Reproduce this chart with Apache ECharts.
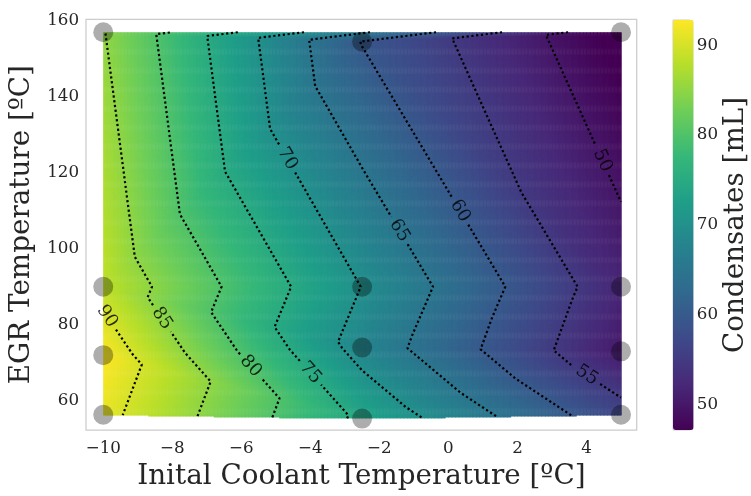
<!DOCTYPE html>
<html><head><meta charset="utf-8">
<script src="https://cdn.jsdelivr.net/npm/echarts@6/dist/echarts.min.js"></script>
<style>html,body{margin:0;padding:0;background:#fff}#c{width:751px;height:496px}</style>
</head><body><div id="c"></div>
<script>
const coolantTemp = [-10, -10, -10, -10, -2.5, -2.5, -2.5, -2.5, 5, 5, 5, 5];
const egrTemp     = [157, 90, 72, 56.3, 154.5, 90, 74, 55.3, 157, 90, 73, 56.3];
const condensates = [85.2, 88.5, 92.8, 91.3, 59.8, 69.9, 68.1, 74, 46, 52, 50.4, 56.7];
const contourLevels = [50, 55, 60, 65, 70, 75, 80, 85, 90];
const xTickValues = [-10, -8, -6, -4, -2, 0, 2, 4];
const yTickValues = [60, 80, 100, 120, 140, 160];
const colorbarTicks = [50, 60, 70, 80, 90];
const colorRange = [47.2, 92.8];
// Delaunay triangulation of the measured points (indices)
const triangles = [[0,1,4],[1,5,4],[1,2,6],[1,6,5],[2,3,7],[2,7,6],[0,4,8],
                   [4,5,9],[4,9,8],[5,6,9],[6,10,9],[6,7,10],[7,11,10]];

// ---- layout / style ----
const FONT = 'DejaVu Serif', TXT = '#262626';
const TICK_FS = 16.7, TITLE_FS = 27.8, CLABEL_FS = 18;
const CELL_DX = 0.1, CELL_DY = 0.25;
const LABEL_ANCHOR = {90:[-9.78,82.9],85:[-8.23,82.1],80:[-5.67,69.6],75:[-3.93,67.9],
  70:[-4.6,124.1],65:[-1.42,104.8],60:[0.42,110.4],55:[4.0,66.6],50:[4.48,123.3]};
const GAP_R = 16;
const viridis = ['#440154','#482878','#3e4a89','#31688e','#26828e','#1f9e89','#35b779','#6ece58','#b5de2b','#fde725'];
const fmt = v => (v < 0 ? '\u2212' + Math.abs(v) : String(v));

function fieldAt(x, y) {
  for (const [a, b, c] of triangles) {
    const x1 = coolantTemp[a], y1 = egrTemp[a], x2 = coolantTemp[b], y2 = egrTemp[b], x3 = coolantTemp[c], y3 = egrTemp[c];
    const det = (y2 - y3) * (x1 - x3) + (x3 - x2) * (y1 - y3);
    const l1 = ((y2 - y3) * (x - x3) + (x3 - x2) * (y - y3)) / det;
    const l2 = ((y3 - y1) * (x - x3) + (x1 - x3) * (y - y3)) / det;
    const l3 = 1 - l1 - l2;
    if (l1 >= -1e-9 && l2 >= -1e-9 && l3 >= -1e-9) return l1 * condensates[a] + l2 * condensates[b] + l3 * condensates[c];
  }
  return null;
}

// heat cells from the triangulated field
const cells = [];
const xMin = Math.min(...coolantTemp), xMax = Math.max(...coolantTemp);
const yMaxD = Math.max(...egrTemp), yMinD = Math.min(...egrTemp);
const nCols = Math.round((xMax - xMin) / CELL_DX);
const nRows = Math.floor((yMaxD - yMinD) / CELL_DY + 1e-9);
for (let i = 0; i < nCols; i++) {
  const x0 = xMin + i * CELL_DX;
  for (let j = 0; j < nRows; j++) {
    const y0 = yMaxD - (j + 1) * CELL_DY;
    const v = fieldAt(x0 + CELL_DX / 2, y0 + CELL_DY / 2);
    if (v !== null) cells.push([x0, y0, v]);
  }
}

function contourLines(L) {
  const segs = [];
  for (const tri of triangles) {
    const pts = [];
    for (let e = 0; e < 3; e++) {
      const i = tri[e], j = tri[(e + 1) % 3];
      const vi = condensates[i], vj = condensates[j];
      if ((vi < L) !== (vj < L)) {
        const t = (L - vi) / (vj - vi);
        pts.push({key: Math.min(i, j) + '-' + Math.max(i, j),
          x: coolantTemp[i] + t * (coolantTemp[j] - coolantTemp[i]),
          y: egrTemp[i] + t * (egrTemp[j] - egrTemp[i])});
      }
    }
    if (pts.length === 2) segs.push(pts);
  }
  const byKey = {};
  segs.forEach((s, idx) => s.forEach(p => (byKey[p.key] = byKey[p.key] || []).push(idx)));
  const used = segs.map(() => false);
  function walk(si, entry) {
    const line = [segs[si][entry]];
    let cur = si;
    while (true) {
      used[cur] = true;
      const exit = segs[cur][1 - entry];
      line.push(exit);
      const nx = byKey[exit.key].filter(k => !used[k]);
      if (!nx.length) break;
      cur = nx[0];
      entry = segs[cur][0].key === exit.key ? 0 : 1;
    }
    return line;
  }
  const lines = [];
  for (let i = 0; i < segs.length; i++) if (!used[i]) {
    for (let e = 0; e < 2; e++) if (byKey[segs[i][e].key].length === 1) { lines.push(walk(i, e)); break; }
  }
  for (let i = 0; i < segs.length; i++) if (!used[i]) lines.push(walk(i, 0));
  return lines.map(l => l.map(p => [p.x, p.y]));
}

const chart = echarts.init(document.getElementById('c'), null, {renderer: 'canvas'});
const axisLbl = {fontFamily: FONT, fontSize: TICK_FS, color: TXT};
const titleStyle = {fontFamily: FONT, fontSize: TITLE_FS, color: TXT};
const baseSeries = [
  {type: 'custom', xAxisIndex: 0, yAxisIndex: 0, data: cells, encode: {x: 0, y: 1}, silent: true, z: 1,
   progressive: 0, animation: false,
   renderItem: (params, api) => {
     const a = api.coord([api.value(0), api.value(1) + CELL_DY]);
     const b = api.coord([api.value(0) + CELL_DX, api.value(1)]);
     return {type: 'rect', shape: {x: a[0], y: a[1], width: b[0] - a[0] + 0.6, height: b[1] - a[1] + 0.6},
             style: {fill: api.visual('color')}};
   }},
  {type: 'scatter', xAxisIndex: 0, yAxisIndex: 0, data: coolantTemp.map((x, i) => [x, egrTemp[i]]),
   symbolSize: 20, itemStyle: {color: 'rgba(0,0,0,0.4)'}, silent: true, z: 6}
];
const option = {
  animation: false,
  backgroundColor: '#fff',
  grid: [
    {left: 86, top: 19.3, width: 550.7, height: 419.7, show: true, borderColor: '#cccccc', borderWidth: 1.25, backgroundColor: 'transparent'},
    {left: 673, top: 20, width: 20.6, height: 410, show: true, borderColor: '#cccccc', borderWidth: 1, backgroundColor: 'transparent'}
  ],
  xAxis: [
    {type: 'value', gridIndex: 0, min: -10.5, max: 5.455, name: 'Inital Coolant Temperature [ºC]', nameLocation: 'middle', nameGap: 33,
     nameTextStyle: titleStyle,
     axisLine: {show: false}, axisTick: {show: false}, splitLine: {show: false},
     axisLabel: Object.assign({customValues: xTickValues, formatter: fmt, margin: 10}, axisLbl)},
    {type: 'value', gridIndex: 1, min: 0, max: 1, show: false}
  ],
  yAxis: [
    {type: 'value', gridIndex: 0, min: 52.3, max: 160.4, name: 'EGR Temperature [ºC]', nameLocation: 'middle', nameGap: 46, nameRotate: 90,
     nameTextStyle: titleStyle,
     axisLine: {show: false}, axisTick: {show: false}, splitLine: {show: false},
     axisLabel: Object.assign({customValues: yTickValues, margin: 7}, axisLbl)},
    {type: 'value', gridIndex: 1, min: colorRange[0], max: colorRange[1], position: 'right', name: 'Condensates [mL]',
     nameLocation: 'middle', nameGap: 31, nameRotate: 90, nameTextStyle: titleStyle,
     axisLine: {show: false}, axisTick: {show: false}, splitLine: {show: false},
     axisLabel: Object.assign({customValues: colorbarTicks, margin: 7}, axisLbl)}
  ],
  visualMap: {type: 'continuous', min: colorRange[0], max: colorRange[1], dimension: 2, seriesIndex: 0,
    inRange: {color: viridis}, left: 673, top: 20, itemWidth: 20.6, itemHeight: 410, padding: 0,
    calculable: false, hoverLink: false, realtime: false},
  series: baseSeries
};
chart.setOption(option);

// contours with inline label gaps
const toPx = p => chart.convertToPixel({gridIndex: 0}, p);
const fromPx = p => chart.convertFromPixel({gridIndex: 0}, p);
const extra = [];
const labelData = [];
contourLevels.forEach(L => {
  const lines = contourLines(L).map(l => l.map(toPx));
  const anchor = toPx(LABEL_ANCHOR[L]);
  let best = null;
  lines.forEach(ln => {
    for (let k = 0; k < ln.length - 1; k++) {
      const p = ln[k], q = ln[k + 1];
      const dx = q[0] - p[0], dy = q[1] - p[1], len2 = dx * dx + dy * dy;
      if (len2 === 0) continue;
      let t = ((anchor[0] - p[0]) * dx + (anchor[1] - p[1]) * dy) / len2;
      t = Math.max(0, Math.min(1, t));
      const c = [p[0] + t * dx, p[1] + t * dy];
      const d = Math.hypot(c[0] - anchor[0], c[1] - anchor[1]);
      if (!best || d < best.d) best = {d, c, dx, dy};
    }
  });
  let ang = best ? Math.atan2(best.dy, best.dx) * 180 / Math.PI : 0;
  if (ang > 90) ang -= 180; if (ang < -90) ang += 180;
  const center = best ? best.c : anchor;
  labelData.push({value: fromPx(center), name: String(L), label: {rotate: -ang}});
  lines.forEach(ln => {
    const pieces = []; let cur = [];
    for (let k = 0; k < ln.length - 1; k++) {
      const p = ln[k], q = ln[k + 1];
      const d = [q[0] - p[0], q[1] - p[1]], f = [p[0] - center[0], p[1] - center[1]];
      const a = d[0] * d[0] + d[1] * d[1], b = 2 * (f[0] * d[0] + f[1] * d[1]), cc = f[0] * f[0] + f[1] * f[1] - GAP_R * GAP_R;
      const disc = b * b - 4 * a * cc;
      let t1 = 2, t2 = -1;
      if (a > 0 && disc > 0) { t1 = (-b - Math.sqrt(disc)) / (2 * a); t2 = (-b + Math.sqrt(disc)) / (2 * a); }
      const at = t => [p[0] + t * d[0], p[1] + t * d[1]];
      if (t1 >= 1 || t2 <= 0) { if (!cur.length) cur.push(p); cur.push(q); }
      else {
        if (t1 > 0) { if (!cur.length) cur.push(p); cur.push(at(t1)); }
        if (cur.length > 1) pieces.push(cur);
        cur = [];
        if (t2 < 1) cur = [at(t2), q];
      }
    }
    if (cur.length > 1) pieces.push(cur);
    pieces.forEach(pc => extra.push({type: 'line', xAxisIndex: 0, yAxisIndex: 0, data: pc.map(fromPx),
      showSymbol: false, symbol: 'none', silent: true, z: 4,
      lineStyle: {color: '#000', width: 2.2, type: [2.2, 2.6], cap: 'butt'}}));
  });
});
extra.push({type: 'scatter', xAxisIndex: 0, yAxisIndex: 0, data: labelData, symbolSize: 1, silent: true, z: 8,
  itemStyle: {color: 'rgba(0,0,0,0)'},
  label: {show: true, position: 'inside', formatter: p => p.name, fontFamily: FONT, fontSize: CLABEL_FS, color: '#000'}});
option.series = baseSeries.concat(extra);
chart.setOption(option, true);
</script></body></html>
